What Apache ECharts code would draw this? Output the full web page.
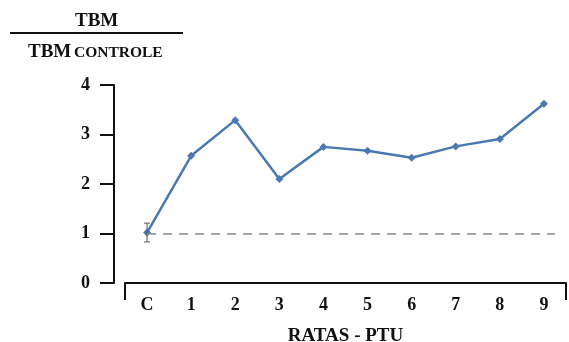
<!DOCTYPE html>
<html><head><meta charset="utf-8">
<script src="https://cdn.jsdelivr.net/npm/echarts@6/dist/echarts.min.js"></script>
<style>html,body{margin:0;padding:0;background:#fff}#c{width:569px;height:342px}</style>
</head><body><div id="c"></div>
<script>
var categories = ['C','1','2','3','4','5','6','7','8','9'];
var values = [1.02, 2.57, 3.29, 2.10, 2.75, 2.67, 2.53, 2.76, 2.91, 3.62];
var errors = [0.19, 0, 0, 0, 0, 0, 0, 0, 0, 0];
var referenceValue = 1;
var yTicks = [0, 1, 2, 3, 4];

var serif = '"Liberation Serif", "DejaVu Serif", serif';
var chart = echarts.init(document.getElementById('c'), null, {renderer: 'canvas'});
chart.setOption({
  animation: false,
  grid: {left: 125, right: 3, top: 85, bottom: 59, outerBoundsMode: 'none', containLabel: false},
  graphic: [
    {type: 'text', left: 75, top: 12, style: {text: 'TBM', font: 'bold 19px ' + serif, fill: '#111'}},
    {type: 'line', shape: {x1: 10, y1: 33, x2: 183, y2: 33}, style: {stroke: '#111', lineWidth: 2}},
    {type: 'text', style: {x: 28, y: 62, text: 'TBM', font: 'bold 19px ' + serif, fill: '#111', verticalAlign: 'bottom'}},
    {type: 'text', style: {x: 74, y: 61, text: 'CONTROLE', font: 'bold 15.5px ' + serif, fill: '#111', verticalAlign: 'bottom'}}
  ],
  xAxis: {
    type: 'category', data: categories, boundaryGap: true,
    name: 'RATAS - PTU', nameLocation: 'middle', nameGap: 44,
    nameTextStyle: {fontFamily: serif, fontWeight: 'bold', fontSize: 19, color: '#111'},
    axisLine: {lineStyle: {color: '#111', width: 2}},
    axisTick: {show: true, length: 17, interval: function (i) { return i === 0; }, lineStyle: {color: '#111', width: 2}},
    axisLabel: {fontFamily: serif, fontWeight: 'bold', fontSize: 18, color: '#111', margin: 13}
  },
  yAxis: {
    type: 'value', min: 0, max: 4, interval: 1, offset: 11,
    axisLine: {show: true, lineStyle: {color: '#111', width: 2}},
    axisTick: {show: true, length: 14, lineStyle: {color: '#111', width: 2}},
    splitLine: {show: false},
    axisLabel: {fontFamily: serif, fontWeight: 'bold', fontSize: 18, color: '#111', margin: 24,
      formatter: function (v) { return yTicks.indexOf(v) >= 0 ? String(v) : ''; }}
  },
  series: [
    {
      type: 'line', data: values, symbol: 'diamond', symbolSize: 8,
      lineStyle: {color: '#4a79b2', width: 2.5}, itemStyle: {color: '#4a79b2'},
      markLine: {
        silent: true, symbol: 'none', label: {show: false},
        lineStyle: {color: '#8a8a8a', type: [9, 7], width: 1.5},
        data: [[{coord: ['C', referenceValue]}, {coord: ['9', referenceValue], x: 555}]]
      },
      z: 3
    },
    {
      type: 'custom', z: 4,
      data: values.map(function (v, i) { return [i, v, errors[i]]; }),
      renderItem: function (params, api) {
        var e = api.value(2);
        if (!e) return null;
        var i = api.value(0), v = api.value(1);
        var top = api.coord([i, v + e]), bot = api.coord([i, v - e]);
        var s = {stroke: '#555', lineWidth: 1};
        return {type: 'group', children: [
          {type: 'line', shape: {x1: top[0], y1: top[1], x2: bot[0], y2: bot[1]}, style: s},
          {type: 'line', shape: {x1: top[0]-3, y1: top[1], x2: top[0]+3, y2: top[1]}, style: s},
          {type: 'line', shape: {x1: bot[0]-3, y1: bot[1], x2: bot[0]+3, y2: bot[1]}, style: s}
        ]};
      }
    }
  ]
});
</script></body></html>
